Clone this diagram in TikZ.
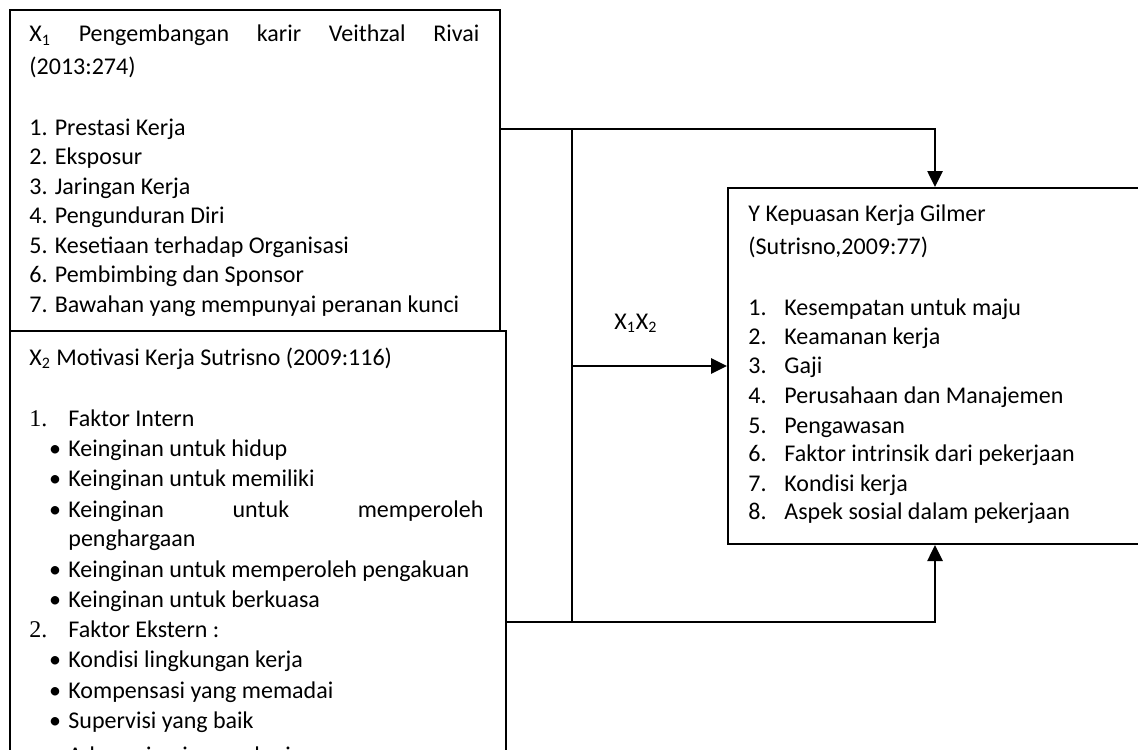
\documentclass[tikz,border=0pt]{standalone}
\usepackage{fontspec}
\setmainfont{Carlito}
\newfontfamily\numfont{Liberation Serif}
\usetikzlibrary{arrows.meta}
\begin{document}
\begin{tikzpicture}[x=0.5pt,y=-0.5pt,
  boxframe/.style={draw, line width=1pt, inner sep=0pt, anchor=north west},
  link/.style={draw, line width=1.35pt},
  splitline/.style={draw, line width=1pt},
  tip/.style={-{Triangle[length=8pt,width=7.5pt]}},
  txt/.style={anchor=base west, inner sep=0pt, font=\fontsize{12pt}{14pt}\selectfont},
  dot/.style={anchor=base, inner sep=0pt, font=\fontsize{12pt}{14pt}\selectfont},
  num/.style={anchor=base west, inner sep=0pt, font=\fontsize{12pt}{14pt}\numfont}]
\useasboundingbox (0,0) rectangle (1138,749);
\clip (0,0) rectangle (1138,749);

% the three frames
\node[boxframe, minimum width=245pt, minimum height=160.5pt] (x1box) at (9,9) {};
\node[boxframe, minimum width=248pt, minimum height=240pt] (x2box) at (9,330) {};
\node[boxframe, minimum width=220pt, minimum height=178pt] (ybox) at (727,187) {};

% X1 frame text
\foreach \yy/\words [count=\k] in {
  42/{\makebox[225pt][l]{X\textsubscript{1}\hfill Pengembangan\hfill karir\hfill Veithzal\hfill Rivai}},
  75/{(2013:274)},
  135/{1. Prestasi Kerja},
  164/{2. Eksposur},
  194/{3. Jaringan Kerja},
  223/{4. Pengunduran Diri},
  253/{5. Kesetiaan terhadap Organisasi},
  282/{6. Pembimbing dan Sponsor},
  312/{7. Bawahan yang mempunyai peranan kunci}}
  \node[txt] (xa\k) at (29,\yy) {\words};

% X2 frame text
\node[txt] (xbtitle) at (29,365) {X\textsubscript{2} Motivasi Kerja Sutrisno (2009:116)};
\node[num] (xbn1) at (29,426) {1.};
\node[num] (xbn2) at (29,637) {2.};
\foreach \yy/\words [count=\k] in {
  426/{Faktor Intern},
  456/{Keinginan untuk hidup},
  486/{Keinginan untuk memiliki},
  517/{\makebox[207.5pt][l]{Keinginan\hfill untuk\hfill memperoleh}},
  546/{penghargaan},
  577/{Keinginan untuk memperoleh pengakuan},
  607/{Keinginan untuk berkuasa},
  637/{Faktor Ekstern :},
  667/{Kondisi lingkungan kerja},
  698/{Kompensasi yang memadai},
  728/{Supervisi yang baik},
  763/{Adanya jaminan pekerjaan}}
  \node[txt] (xb\k) at (68,\yy) {\words};
\foreach \yy [count=\k] in {456,486,517,577,607,667,698,728,763}
  \node[dot] (bul\k) at (55,\yy) {•};

% Y frame text
\node[txt] (ytitle) at (748,221) {Y Kepuasan Kerja Gilmer};
\node[txt] (ysrc) at (748,254) {(Sutrisno,2009:77)};
\foreach \yy/\words [count=\k] in {
  315/{Kesempatan untuk maju},
  344/{Keamanan kerja},
  373/{Gaji},
  403/{Perusahaan dan Manajemen},
  433/{Pengawasan},
  461/{Faktor intrinsik dari pekerjaan},
  491/{Kondisi kerja},
  519/{Aspek sosial dalam pekerjaan}}
  {\node[txt] (yn\k) at (748,\yy) {\k.};
   \node[txt] (yi\k) at (784,\yy) {\words};}

% joint label
\node[txt] (joint) at (614,329) {X\textsubscript{1}X\textsubscript{2}};

% connectors
\coordinate (topturn) at (935,129);
\coordinate (split) at (572,129);
\coordinate (splitend) at (572,622);
\coordinate (midout) at (572,366);
\coordinate (botturn) at (935,622);

\draw[link, tip] (x1box.east |- topturn) -- (topturn) -- (ybox.north -| topturn);
\draw[splitline] (split) -- (splitend);
\draw[link, tip] (midout) -- (ybox.west |- midout);
\draw[link, tip] (x2box.east |- botturn) -- (botturn) -- (ybox.south -| botturn);
\end{tikzpicture}
\end{document}
